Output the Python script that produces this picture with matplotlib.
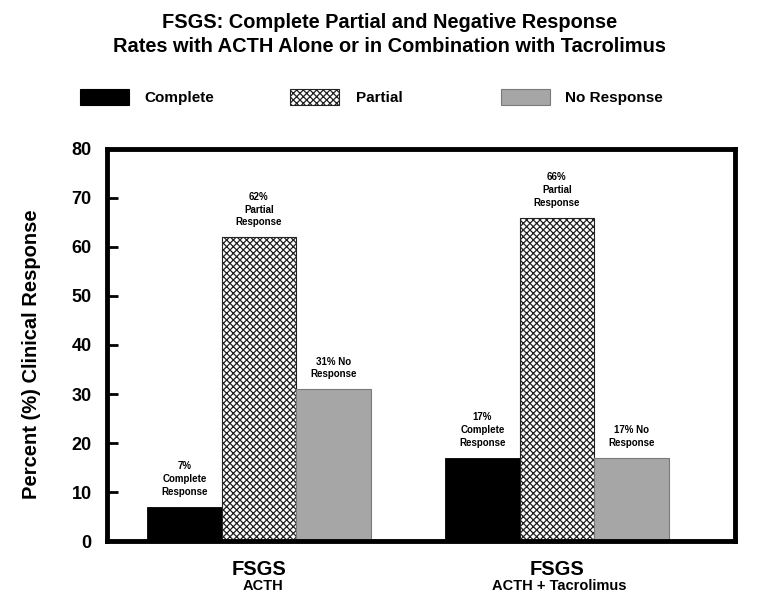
import numpy as np
import matplotlib.pyplot as plt
from matplotlib.patches import Patch

plt.rcParams['font.family'] = ['Liberation Sans', 'DejaVu Sans']
plt.rcParams['font.weight'] = 'bold'
plt.rcParams['hatch.linewidth'] = 0.9

# data
groups = ['FSGS', 'FSGS']
group_subs = ['ACTH', 'ACTH + Tacrolimus']
series = ['Complete', 'Partial', 'No Response']
complete = [7, 17]
partial = [62, 66]
no_response = [31, 17]
complete_lbl = ['7%\nComplete\nResponse', '17%\nComplete\nResponse']
partial_lbl = ['62%\nPartial\nResponse', '66%\nPartial\nResponse']
no_resp_lbl = ['31% No\nResponse', '17% No\nResponse']

styles = [
    dict(color='black', edgecolor='black', linewidth=0.6),
    dict(color='white', edgecolor='#222222', hatch='xxxxx', linewidth=0.8),
    dict(color='#a6a6a6', edgecolor='#7a7a7a', linewidth=0.8),
]

fig = plt.figure(figsize=(7.75, 5.94), dpi=100)
ax = fig.add_axes([0.138, 0.0892, 0.810, 0.660])

x = np.arange(len(groups))
w = 0.25
vals = [complete, partial, no_response]
lbls = [complete_lbl, partial_lbl, no_resp_lbl]
handles = []
for i, (v, lab, st) in enumerate(zip(vals, lbls, styles)):
    bars = ax.bar(x + (i - 1) * w, v, w, **st)
    handles.append(bars)
    for b, t in zip(bars, lab):
        ax.annotate(t, (b.get_x() + b.get_width() / 2, b.get_height()),
                    xytext=(0, 7), textcoords='offset points',
                    ha='center', va='bottom', fontsize=7, fontweight='bold',
                    linespacing=1.35)

ax.set_xlim(-0.51, 1.597)
ax.set_ylim(0, 80)
ax.set_yticks(np.arange(0, 81, 10))
ax.tick_params(axis='y', direction='in', length=8, width=2, labelsize=13, pad=11)
for lab in ax.get_yticklabels():
    lab.set_fontweight('bold')
ax.set_xticks([])
for s in ax.spines.values():
    s.set_linewidth(3.5)
ax.set_ylabel('Percent (%) Clinical Response', fontsize=14.5, fontweight='bold')
ax.yaxis.set_label_coords(-0.105, 0.477)

# category labels under the groups
sub_shift = [0.015, 0.007]
for xi, g, sub, sh in zip(x, groups, group_subs, sub_shift):
    ax.text(xi, -0.048, g, transform=ax.get_xaxis_transform(), ha='center', va='top',
            fontsize=14.5, fontweight='bold')
    ax.text(xi + sh, -0.098, sub, transform=ax.get_xaxis_transform(), ha='center', va='top',
            fontsize=10.5, fontweight='bold')

fig.text(0.503, 0.978, 'FSGS: Complete Partial and Negative Response\n'
         'Rates with ACTH Alone or in Combination with Tacrolimus',
         ha='center', va='top', fontsize=14.4, fontweight='bold', linespacing=1.35)

# legend entries laid out across the top
legend_x = [0.103, 0.374, 0.646]
text_pad = [1.0, 1.1, 1.0]
for h, name, lx, tp in zip(handles, series, legend_x, text_pad):
    p = h.patches[0]
    proxy = Patch(facecolor=p.get_facecolor(), edgecolor=p.get_edgecolor(),
                  hatch=p.get_hatch(), linewidth=0.8)
    fig.legend([proxy], [name], loc='center left', bbox_to_anchor=(lx, 0.837),
               frameon=False, fontsize=11, handlelength=3.2, handleheight=1.27,
               handletextpad=tp, borderpad=0, borderaxespad=0)

fig.savefig('out.png', dpi=100)
